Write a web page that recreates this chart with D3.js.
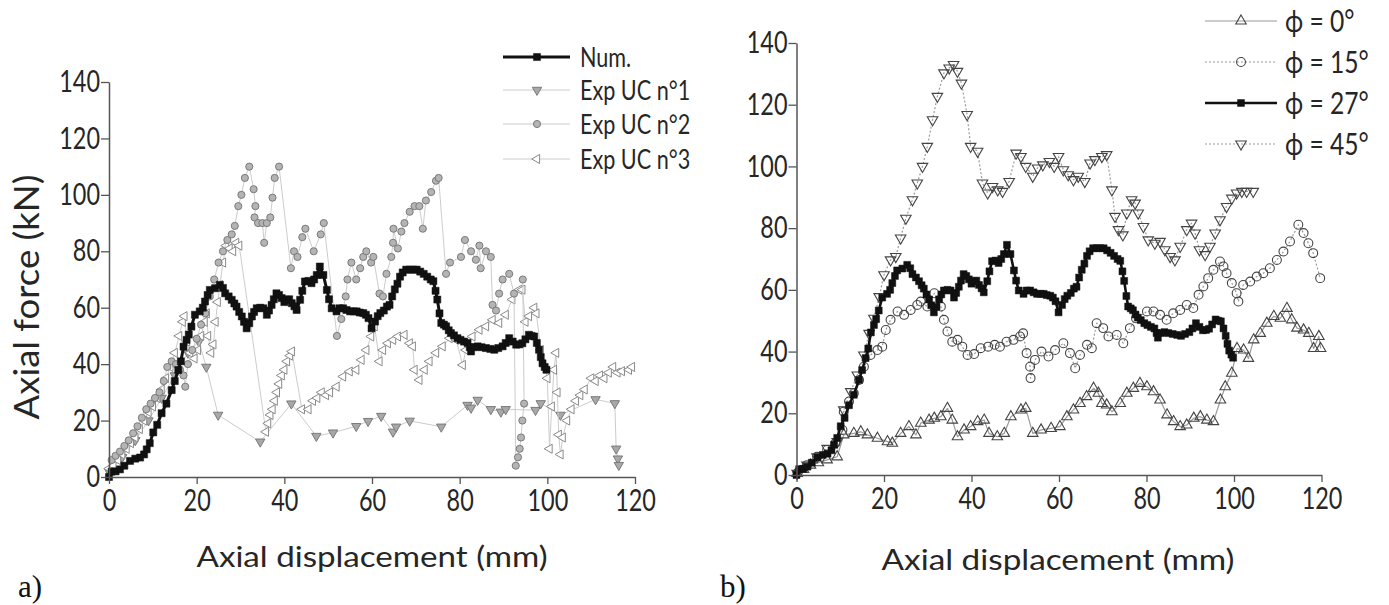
<!DOCTYPE html>
<html><head><meta charset="utf-8">
<script src="https://cdnjs.cloudflare.com/ajax/libs/d3/7.8.5/d3.min.js"></script>
<style>
body{margin:0;background:#fff}
svg text{font-family:Lato,"Open Sans",sans-serif;fill:#262626}
</style></head>
<body><svg id="c" width="1389" height="605"></svg>
<script>
// ---------- data ----------
const xTicks=[0,20,40,60,80,100,120];
const yTicks=[0,20,40,60,80,100,120,140];
const xTitle="Axial displacement (mm)";
const yTitle="Axial force (kN)";
const leftLegend=["Num.","Exp UC n°1","Exp UC n°2","Exp UC n°3"];
const rightLegend=["ϕ = 0°","ϕ = 15°","ϕ = 27°","ϕ = 45°"];
const panelLabels=["a)","b)"];

// numerical curve (Num. in a, phi = 27° in b)
const numData=[[0,0],[0.6,1.9],[1.5,2],[2.5,2.7],[3.5,4],[4.8,5.7],[6,6.5],[7.1,6.9],[8,8],[8.6,9.8],[9.3,12],[10.1,15.8],[11,18.5],[12,22.6],[13.1,26],[14.3,30.8],[15,34],[15.8,37.9],[16.4,41],[17,46.2],[17.7,48.6],[18.2,50.5],[18.8,53.3],[19.6,57.5],[20.7,58.7],[21.4,60],[21.9,62.2],[22.5,64.5],[23,66.3],[24.2,66.9],[25.3,68.1],[26,67],[26.5,65.1],[27.3,64],[28,62.8],[28.6,61.5],[29.1,60.4],[29.7,58.5],[30.3,56.9],[30.8,55],[31.4,52.7],[32,54.5],[32.6,56.9],[33.1,58.5],[33.7,59.8],[34.5,60],[35.2,59.8],[36,57.5],[36.5,59],[37.1,61],[37.6,63],[38.2,65.1],[38.8,64.5],[39.4,63.4],[40,62],[40.5,62.8],[41.1,63],[41.7,61.6],[42.3,60.5],[42.8,59.2],[43.6,62.8],[44.1,66],[44.7,69.3],[45.5,69.5],[46.2,68.7],[46.8,70],[47.4,71.6],[48.1,74.6],[48.9,71.6],[49.7,66.3],[50.2,63],[50.8,59.8],[51.9,58.7],[52.6,59.8],[53.4,59.8],[54.2,59.2],[55,58.7],[55.8,58.7],[56.5,58.7],[57.2,58.3],[58,58.1],[58.6,57.5],[59.2,56.3],[59.9,52.7],[60.7,55.1],[61.3,57],[61.9,58.1],[62.7,59],[63.4,60.4],[64,61],[64.6,64],[65.2,66.5],[65.8,68.5],[66.4,71],[67,72.5],[67.8,73.5],[68.6,73.5],[69.4,73.5],[70.2,73.5],[71,72.8],[71.8,72],[72.6,71],[73.4,70],[74,69.4],[74.5,66],[74.9,62.9],[75.4,58],[75.8,54.6],[76.4,54],[76.9,53.4],[77.5,52],[78,51],[78.7,50.2],[79.5,49.2],[80.2,48.6],[81,48],[81.8,47.5],[82.3,46],[82.6,44.5],[83.3,46],[84.1,46.3],[85,46],[86,45.7],[87,45.4],[87.9,45.1],[88.8,45.7],[89.8,46.3],[90.5,47.5],[91.3,49.2],[92.1,48],[92.9,46.9],[93.6,47],[94.3,47.4],[95,48.8],[95.8,50.4],[96.4,50],[97,49.8],[97.6,47.5],[98.1,45.1],[98.5,42.5],[98.9,40.3],[99.4,39],[99.8,38]];

const exp1Data=[[0,2],[3,7],[6,13],[9,20],[12,28],[15,36],[18,44],[20.5,48],[22.2,39],[24.9,22],[34.5,12.5],[41.6,26],[47.3,14.5],[51.1,15.7],[56.4,18],[59.1,19.8],[62.1,21.6],[64.8,16],[65.5,17.8],[68.6,19.9],[75.8,17.8],[81.8,25.5],[82.6,24.5],[84.1,27.3],[87.1,24],[89.4,23.1],[90.5,24],[97.3,23.7],[98.5,26.1],[103,22],[111,27.5],[115.4,26.1],[115.7,10],[116.1,6.5],[116.3,4.2]];

const exp2Data=[[0.6,6],[1.5,7.5],[2.5,9],[3.5,11],[4.5,13],[5.5,15.5],[6.5,18],[7.5,21],[8.5,24],[9.5,26],[10.5,28],[11.5,30],[12.5,34],[13.3,39],[14.3,41],[15.3,40],[16.2,38],[17,36],[17.4,32],[18,40],[19,45],[20,49],[21,54],[22,58],[23,64],[24,70],[25,76],[26,80],[27,84],[28,86],[28.7,89],[29.5,96],[30.2,100],[31,106],[32,110],[33,102],[33.4,96],[33.2,92],[34,90],[35,90],[35.4,83],[36,90],[36.8,92],[37.3,99],[37.8,106],[38.8,110],[41.5,74],[42.2,80],[43,78],[44.1,85],[44.8,88],[46.7,80],[48.3,86],[49,90],[52,50],[53,56],[54,64],[54.4,70],[55.3,76],[56.4,70],[57.3,74],[58,78],[58.7,80],[59.8,76],[60.3,78],[61.7,65],[62.5,64],[63.3,72],[64.4,78],[64.8,83],[64.9,88],[65.9,81],[66.7,87],[67.4,90],[68.6,94],[69.7,96],[70.8,96],[71.6,88],[72.3,98],[73.5,101],[74.6,105],[75.2,106],[76.9,72],[77.8,76],[80.3,78],[81.2,84],[82.6,80],[83.7,77],[84.5,82],[84.8,74],[86,80],[87.1,78],[87.5,61],[88.3,59],[89,65],[89.8,70],[91.3,72],[92.4,65],[92.8,4],[93.3,7],[93.7,10],[94,14],[94.3,20],[94.7,26],[94.4,70]];

const exp3Data=[[0,3],[1,4],[2,6],[3,8],[4,10],[5,12],[6,14],[7,17],[8,20],[9,23],[10,25],[11,28],[12,31],[13,35],[14,39],[15,44],[16,50],[16.8,55],[17.2,57],[17.8,48],[18.5,44],[19.5,42],[20.3,45],[21,50],[21.8,55],[22.3,58],[22.6,50],[23.3,44],[23.8,47],[24.3,55],[24.8,62],[25.3,68],[26,76],[26.7,82],[27.5,81],[28.3,80],[29,83],[29.7,82],[35.8,16],[36.3,19],[36.8,22],[37.3,24],[37.8,27],[38.3,30],[38.8,33],[39.4,36],[40,38],[40.6,41],[41.3,43],[41.7,44.5],[44,24],[45.5,24],[46.5,27],[47.5,28],[48.5,30],[49.5,29],[50.4,30],[51.9,32],[53.4,35.6],[54.9,37.4],[56.4,38],[57.6,41.5],[58.7,45],[59.8,49.8],[60.6,53.4],[61.7,41],[62.5,45],[63.6,47.4],[64.8,48.6],[65.9,49.8],[67.4,50.4],[68.6,47.4],[69.3,46.3],[69.7,38],[70.8,34.4],[72,38],[73.1,41],[74.6,44],[76.1,46.3],[77.7,49.2],[79.2,48.6],[80.7,39.7],[81.4,45],[82.9,49.8],[84.5,52.2],[86,53.4],[87.5,55.7],[89,54.6],[90.5,57.5],[92,62.9],[93.6,66.4],[94.3,66.4],[95,55],[95.8,57],[97,60],[97.5,58],[98.5,45],[100,35],[100.5,10],[101,25],[101.5,38],[102,44],[102.3,30],[102.6,15],[103,8],[103.5,14],[104.5,20],[105.5,24],[106.5,27],[107.5,29],[108.5,31],[110,35],[111,34],[112,36],[113,35],[114,37],[115,39],[116,37],[117,37.5],[118.6,38],[119.3,39]];

const phi0Data=[[0.15,0.5],[1.6,1.8],[3.2,3.2],[5,4],[7,4.9],[9.3,5.9],[10.8,13],[13.1,13.5],[14.7,14],[16.2,13],[18.5,11.9],[20.8,10.8],[21.9,10.3],[23.8,13.5],[25.7,15.7],[27.3,13],[28.4,16.8],[30.3,17.8],[31.5,18.4],[33,18.9],[34.5,21.6],[35.6,17.8],[36.8,12.4],[38.3,14.6],[39.8,15.7],[41.4,17.3],[42.9,17.8],[44,13.5],[45.9,12.4],[47.5,13.5],[49,18.9],[51.3,21.1],[52.4,21.6],[54,13.5],[55.9,14.6],[58.2,15.1],[60.2,15.7],[61.8,18.9],[63.3,21.1],[64.8,23.2],[66.3,25.4],[67.9,28.1],[69,26.5],[69.8,23.2],[70.9,22.7],[72.1,20.5],[74,23.2],[75.5,26.5],[77,28.1],[78.5,29.7],[80.1,28.6],[81.6,27],[83.1,24.3],[84.7,19.5],[86.2,17.3],[87.7,15.7],[89.2,16.2],[90.8,18.4],[92.3,18.9],[93.8,17.8],[95.3,17.3],[96.9,24.3],[98,28.6],[99.5,33],[100.7,41],[102.2,40.5],[103.3,37.8],[104.5,43.8],[106,45.9],[107.5,49.2],[109.1,51.4],[110.6,50.8],[112.1,54],[113.2,50.3],[114.4,47.6],[115.9,47],[117.1,45.9],[118.2,41],[119.4,44.9],[119.8,41]];

const phi15Data=[[0.3,0.8],[2.4,3.2],[4.7,5.9],[7,8.1],[8.9,10.3],[10.5,14.6],[10.8,20.5],[12,23.8],[13.1,26.5],[14.3,30.8],[15.4,35.1],[16.9,38.9],[18.5,40.5],[19.6,41.6],[20.4,47],[21.5,50.3],[23.1,53],[24.6,51.9],[26.1,53.5],[27.6,55.1],[28.4,56.2],[29.9,54.6],[31.5,58.9],[33,54.6],[33.7,50.3],[34.5,46.5],[35.6,43.2],[36.8,43.8],[37.9,41.6],[39.1,38.9],[40.6,39.2],[42.1,41.1],[43.8,41.6],[45.3,42.2],[46.5,41.6],[48,43.2],[49.6,43.8],[51.1,44.9],[51.8,45.9],[52.6,39.5],[53.4,35.1],[53.5,31.4],[54.5,37.3],[56,40],[57.6,38.4],[59.1,40.5],[61,42.7],[62.5,39.5],[63.7,34.6],[64.8,38.9],[66.4,42.2],[67.5,41.1],[68.6,49.2],[70.1,47.6],[71.3,44.9],[73.2,45.4],[74.7,42.7],[76.2,47.6],[77.6,50.8],[80.1,53],[81.6,53],[83.1,51.9],[84.6,50.3],[86.1,52.4],[87.7,53.5],[89.2,55.1],[90.7,54.1],[91.9,58.4],[93,61.1],[94.1,63.8],[95.3,66.5],[96.8,69.2],[97.6,67.6],[98.3,65.4],[99.5,62.2],[100.6,58.9],[101,56.2],[102.1,61.6],[103.7,62.7],[105.2,64.3],[106.7,65.4],[108.2,67],[109.8,69.7],[111.3,72.4],[112.8,75.7],[114.7,81.1],[115.9,78.4],[117,75.1],[118.1,71.9],[119.7,63.8]];

const phi45Data=[[0.15,0.5],[2.4,3.2],[4.7,5.9],[7,8.6],[9.3,10.8],[10.8,21.1],[12.4,27],[13.9,32.4],[15.4,38.9],[16.6,45.9],[17.7,50.8],[18.9,57.8],[20,64.9],[21.5,69.7],[22.7,70.8],[23.8,76.8],[25,83.2],[26.5,89.2],[27.6,94.6],[28.8,100],[29.9,106.5],[31.1,115.1],[32.2,122.7],[33.7,130.3],[34.9,131.9],[35.9,133],[36.8,130.8],[37.7,127],[39,116.8],[39.8,106.5],[41.4,104.9],[42.5,94.6],[43.7,91.4],[44.8,93.5],[46,92.4],[47.1,91.9],[48.6,95.1],[50.2,104.3],[51.3,103.2],[52.4,100],[54,96.8],[55.1,99.5],[56.3,100.5],[57.8,101.6],[58.9,100],[59.9,103.2],[61,98.9],[62.1,97.3],[63.3,95.7],[64.4,96.8],[65.9,95.1],[67.1,101.1],[68.2,102.2],[69.8,103.2],[70.9,103.8],[72.1,92.4],[72.8,83.8],[73.6,79.5],[74.6,77.8],[75.5,84.9],[76.6,89.2],[77.4,88.1],[78.1,84.9],[79.3,80.5],[80.4,76.2],[81.9,75.1],[83.1,75.7],[84.2,73],[85.4,70.8],[86.5,69.7],[87.7,74.1],[89.2,79.5],[90.3,81.6],[91.1,78.4],[92.1,73],[93.4,71.4],[94.5,74.1],[95.7,78.4],[96.8,82.7],[98.3,87],[99.5,89.7],[100.6,91.4],[101.8,91.9],[102.9,91.9],[104.4,91.9]];

// ---------- drawing ----------
const svg=d3.select("#c");
const TICK_F=30, SQ=0.78;

function squeeze(sel,f){
  sel.each(function(){const w=this.getComputedTextLength();
    d3.select(this).attr("textLength",w*f).attr("lengthAdjust","spacingAndGlyphs");});
}
function symPath(type,size){
  const t={square:d3.symbolSquare,tri:d3.symbolTriangle,circle:d3.symbolCircle}[type];
  return d3.symbol().type(t).size(size)();
}
function drawSeries(g,data,x,y,st){
  g.append("path").datum(data)
    .attr("d",d3.line().x(d=>x(d[0])).y(d=>y(d[1])))
    .attr("fill","none").attr("stroke",st.line).attr("stroke-width",st.lw)
    .attr("stroke-dasharray",st.dash||null).attr("stroke-linejoin","round");
  const p=symPath(st.sym,st.size);
  g.append("g").selectAll("path").data(data).join("path")
    .attr("d",p)
    .attr("transform",d=>`translate(${x(d[0])},${y(d[1])}) rotate(${st.rot||0})`)
    .attr("fill",st.fill).attr("stroke",st.stroke).attr("stroke-width",st.sw);
}
function legendItem(g,x0,x1,xm,yy,st,label,tx,fs,f){
  g.append("line").attr("x1",x0).attr("x2",x1).attr("y1",yy).attr("y2",yy)
    .attr("stroke",st.line).attr("stroke-width",st.lw).attr("stroke-dasharray",st.dash||null);
  g.append("path").attr("d",symPath(st.sym,st.size))
    .attr("transform",`translate(${xm},${yy}) rotate(${st.rot||0})`)
    .attr("fill",st.fill).attr("stroke",st.stroke).attr("stroke-width",st.sw);
  const t=g.append("text").attr("x",tx).attr("y",yy).attr("dy","0.36em")
    .attr("font-size",fs).text(label);
  squeeze(t,f);
}
function drawAxes(g,x,y){
  const ax=g.append("g").attr("transform",`translate(0,${y(0)})`)
    .call(d3.axisBottom(x).tickValues(xTicks).tickSize(7).tickSizeOuter(0).tickPadding(6));
  const ay=g.append("g").attr("transform",`translate(${x(0)},0)`)
    .call(d3.axisLeft(y).tickValues(yTicks).tickSize(8).tickSizeOuter(0).tickPadding(1));
  [ax,ay].forEach(a=>{
    a.select(".domain").attr("stroke","#555").attr("stroke-width",1.5);
    a.selectAll(".tick line").attr("stroke","#555").attr("stroke-width",1.3);
    a.selectAll(".tick text").attr("font-size",TICK_F).attr("font-family","Lato,'Open Sans',sans-serif").attr("fill","#2a2a2a");
    squeeze(a.selectAll(".tick text"),SQ);
  });
}

// styles
const stNum={line:"#111",lw:3,sym:"square",size:50,fill:"#111",stroke:"#111",sw:0.5};
const stE1={line:"#cccccc",lw:1,sym:"tri",rot:180,size:38,fill:"#a8a8a8",stroke:"#7a7a7a",sw:1};
const stE2={line:"#cccccc",lw:1,sym:"circle",size:40,fill:"#b4b4b4",stroke:"#7a7a7a",sw:1};
const stE3={line:"#cccccc",lw:1,sym:"tri",rot:-90,size:36,fill:"#fff",stroke:"#8a8a8a",sw:1};
const stP0={line:"#9a9a9a",lw:1.2,sym:"tri",rot:0,size:48,fill:"none",stroke:"#444",sw:1.1};
const stP15={line:"#9a9a9a",lw:1.2,dash:"2,2",sym:"circle",size:62,fill:"none",stroke:"#444",sw:1.1};
const stP27={line:"#111",lw:2.6,sym:"square",size:48,fill:"#111",stroke:"#111",sw:0.5};
const stP45={line:"#9a9a9a",lw:1.2,dash:"2,2",sym:"tri",rot:180,size:48,fill:"none",stroke:"#444",sw:1.1};

// ---- panel a ----
const xL=d3.scaleLinear().domain([0,120]).range([109,635]);
const yL=d3.scaleLinear().domain([0,140]).range([477,82]);
const gA=svg.append("g");
drawSeries(gA,exp1Data,xL,yL,stE1);
drawSeries(gA,exp3Data,xL,yL,stE3);
drawSeries(gA,exp2Data,xL,yL,stE2);
drawSeries(gA,numData,xL,yL,stNum);
drawAxes(gA,xL,yL);
gA.append("text").attr("x",372).attr("y",567).attr("text-anchor","middle")
  .attr("font-size",29).attr("textLength",351).attr("lengthAdjust","spacingAndGlyphs").text(xTitle);
gA.append("text").attr("transform","translate(39,297) rotate(-90)").attr("text-anchor","middle")
  .attr("font-size",34).attr("textLength",245).attr("lengthAdjust","spacingAndGlyphs").text(yTitle);
const legA=gA.append("g");
[stNum,stE1,stE2,stE3].forEach((st,i)=>{
  legendItem(legA,503,570,537,[57,90,124,159][i],st,leftLegend[i],580,27,0.8);
});

// ---- panel b ----
const xR=d3.scaleLinear().domain([0,120]).range([796.5,1321.5]);
const yR=d3.scaleLinear().domain([0,140]).range([475,43]);
const gB=svg.append("g");
drawSeries(gB,phi0Data,xR,yR,stP0);
drawSeries(gB,phi15Data,xR,yR,stP15);
drawSeries(gB,phi45Data,xR,yR,stP45);
drawSeries(gB,numData,xR,yR,stP27);
drawAxes(gB,xR,yR);
gB.append("text").attr("x",1058).attr("y",570).attr("text-anchor","middle")
  .attr("font-size",29).attr("textLength",353).attr("lengthAdjust","spacingAndGlyphs").text(xTitle);
const legB=gB.append("g");
[stP0,stP15,stP27,stP45].forEach((st,i)=>{
  legendItem(legB,1205,1277,1241,[21,62,103,144][i],st,rightLegend[i],1285,30,0.82);
});

// panel labels
svg.append("text").attr("x",18).attr("y",597).attr("font-size",31)
  .style("font-family","'Liberation Serif','Times New Roman',serif").style("fill","#111").text(panelLabels[0]);
svg.append("text").attr("x",720).attr("y",597).attr("font-size",31)
  .style("font-family","'Liberation Serif','Times New Roman',serif").style("fill","#111").text(panelLabels[1]);
</script></body></html>
